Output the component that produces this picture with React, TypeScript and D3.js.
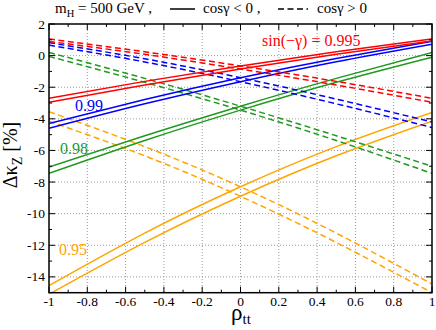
import React from 'react';
import * as d3 from 'd3';

// x positions (rho_tt) at which values were read
const rho = [-1, -0.5, 0, 0.5, 1];

// sin(-γ) = 0.995 (red)
const redSolidA = [-2.7, -1.63, -0.65, 0.24, 1.05];
const redSolidB = [-2.95, -1.86, -0.85, 0.08, 0.93];
const redDashA = [1.05, 0.24, -0.65, -1.63, -2.7];
const redDashB = [0.9, 0.08, -0.85, -1.86, -2.95];
// 0.99 (blue)
const blueSolidA = [-4.3, -2.78, -1.4, -0.18, 0.9];
const blueSolidB = [-4.6, -3.05, -1.65, -0.39, 0.72];
const blueDashA = [0.82, -0.2, -1.4, -2.75, -4.2];
const blueDashB = [0.66, -0.4, -1.65, -3.05, -4.55];
// 0.98 (green)
const greenSolidA = [-7.05, -5.07, -3.2, -1.44, 0.2];
const greenSolidB = [-7.45, -5.37, -3.45, -1.69, -0.1];
const greenDashA = [0.2, -1.44, -3.2, -5.07, -7.0];
const greenDashB = [-0.05, -1.69, -3.45, -5.37, -7.45];
// 0.95 (orange)
const orangeSolidA = [-14.55, -11.23, -8.3, -5.76, -3.6];
const orangeSolidB = [-15.1, -11.82, -8.9, -6.34, -4.15];
const orangeDashA = [-3.55, -5.76, -8.3, -11.23, -14.45];
const orangeDashB = [-4.15, -6.34, -8.9, -11.82, -15.0];

const xTicks = [-1, -0.8, -0.6, -0.4, -0.2, 0, 0.2, 0.4, 0.6, 0.8, 1];
const xTickLabels = ['-1', '-0.8', '-0.6', '-0.4', '-0.2', '0', '0.2', '0.4', '0.6', '0.8', '1'];
const yTicks = [2, 0, -2, -4, -6, -8, -10, -12, -14];
const yTickLabels = ['2', '0', '-2', '-4', '-6', '-8', '-10', '-12', '-14'];

const RED = '#ff0000';
const BLUE = '#0000ff';
const GREEN = '#1f9a1f';
const ORANGE = '#ffa500';

const series = [
  { v: orangeSolidA, c: ORANGE, d: false },
  { v: orangeSolidB, c: ORANGE, d: false },
  { v: orangeDashA, c: ORANGE, d: true },
  { v: orangeDashB, c: ORANGE, d: true },
  { v: greenSolidA, c: GREEN, d: false },
  { v: greenSolidB, c: GREEN, d: false },
  { v: greenDashA, c: GREEN, d: true },
  { v: greenDashB, c: GREEN, d: true },
  { v: blueSolidA, c: BLUE, d: false },
  { v: blueSolidB, c: BLUE, d: false },
  { v: blueDashA, c: BLUE, d: true },
  { v: blueDashB, c: BLUE, d: true },
  { v: redSolidA, c: RED, d: false },
  { v: redSolidB, c: RED, d: false },
  { v: redDashA, c: RED, d: true },
  { v: redDashB, c: RED, d: true },
];

const FONT = "'Liberation Serif', 'DejaVu Serif', 'Times New Roman', Times, serif";

export default function App() {
  const L = 49, R = 432, T = 24, B = 292.7;
  const x = d3.scaleLinear().domain([-1, 1]).range([L, R]);
  const y = d3.scaleLinear().domain([-15, 2]).range([B, T]);
  const line = d3
    .line<[number, number]>()
    .x((p) => x(p[0]))
    .y((p) => y(p[1]))
    .curve(d3.curveNatural);

  const xMinor = d3.range(-10, 11).map((i) => i / 10);
  const yMinor = d3.range(-15, 3);
  const ff = { fontFamily: FONT };

  return (
    <svg width={436} height={330} style={{ position: 'absolute', left: 0, top: 0, background: '#fff', fontFamily: FONT }}>
      <defs>
        <clipPath id="plotclip">
          <rect x={L} y={T} width={R - L} height={B - T} />
        </clipPath>
      </defs>
      {/* grid */}
      <g stroke="#999" strokeWidth={1} strokeDasharray="1,2">
        {xTicks.slice(1, -1).map((t) => (
          <line key={'gx' + t} x1={x(t)} x2={x(t)} y1={T} y2={B} />
        ))}
        {yTicks.slice(1).map((t) => (
          <line key={'gy' + t} x1={L} x2={R} y1={y(t)} y2={y(t)} />
        ))}
      </g>
      {/* series */}
      <g clipPath="url(#plotclip)" fill="none" strokeWidth={1.5}>
        {series.map((s, i) => (
          <path
            key={i}
            d={line(rho.map((r, j) => [r, s.v[j]] as [number, number])) || ''}
            stroke={s.c}
            strokeDasharray={s.d ? '6,3.5' : undefined}
          />
        ))}
      </g>
      {/* ticks */}
      <g stroke="#000" strokeWidth={1}>
        {xMinor.map((t, i) => {
          const len = i % 2 === 0 ? 6 : 3;
          return (
            <g key={'xt' + i}>
              <line x1={x(t)} x2={x(t)} y1={B} y2={B - len} />
              <line x1={x(t)} x2={x(t)} y1={T} y2={T + len} />
            </g>
          );
        })}
        {yMinor.map((t) => {
          const len = t % 2 === 0 ? 6 : 3;
          return (
            <g key={'yt' + t}>
              <line x1={L} x2={L + len} y1={y(t)} y2={y(t)} />
              <line x1={R} x2={R - len} y1={y(t)} y2={y(t)} />
            </g>
          );
        })}
      </g>
      <rect x={L} y={T} width={R - L} height={B - T} fill="none" stroke="#000" strokeWidth={1.5} />
      {/* tick labels */}
      <g style={ff} fontSize={13.5} fill="#000">
        {xTicks.map((t, i) => (
          <text key={'xl' + i} x={x(t)} y={306} textAnchor="middle">
            {xTickLabels[i]}
          </text>
        ))}
        {yTicks.map((t, i) => (
          <text key={'yl' + i} x={45} y={y(t) + 4.5} textAnchor="end">
            {yTickLabels[i]}
          </text>
        ))}
      </g>
      {/* axis titles */}
      <text x={241} y={320} textAnchor="middle" style={ff} fontSize={23}>
        ρ<tspan fontSize={15} dy={4}>tt</tspan>
      </text>
      <text
        transform="translate(17,155) rotate(-90)"
        textAnchor="middle"
        style={ff}
        fontSize={20}
      >
        Δκ<tspan fontSize={14} dy={5}>Z</tspan>
        <tspan dy={-5}> [%]</tspan>
      </text>
      {/* in-plot labels */}
      <g style={ff} fontSize={16}>
        <text x={262} y={46} fill={RED}>sin(−γ) = 0.995</text>
        <text x={75} y={111} fill={BLUE}>0.99</text>
        <text x={60} y={153.5} fill={GREEN}>0.98</text>
        <text x={59} y={255} fill={ORANGE}>0.95</text>
      </g>
      {/* header legend */}
      <g style={ff} fontSize={15}>
        <text x={55} y={13}>
          m<tspan fontSize={10.5} dy={4}>H</tspan>
          <tspan dy={-4}> = 500 GeV ,</tspan>
        </text>
        <line x1={170} x2={195} y1={9} y2={9} stroke="#000" strokeWidth={1.5} />
        <text x={203} y={13}>cosγ &lt; 0 ,</text>
        <line x1={278} x2={308} y1={9} y2={9} stroke="#000" strokeWidth={1.5} strokeDasharray="6,3.5" />
        <text x={317} y={13}>cosγ &gt; 0</text>
      </g>
    </svg>
  );
}
